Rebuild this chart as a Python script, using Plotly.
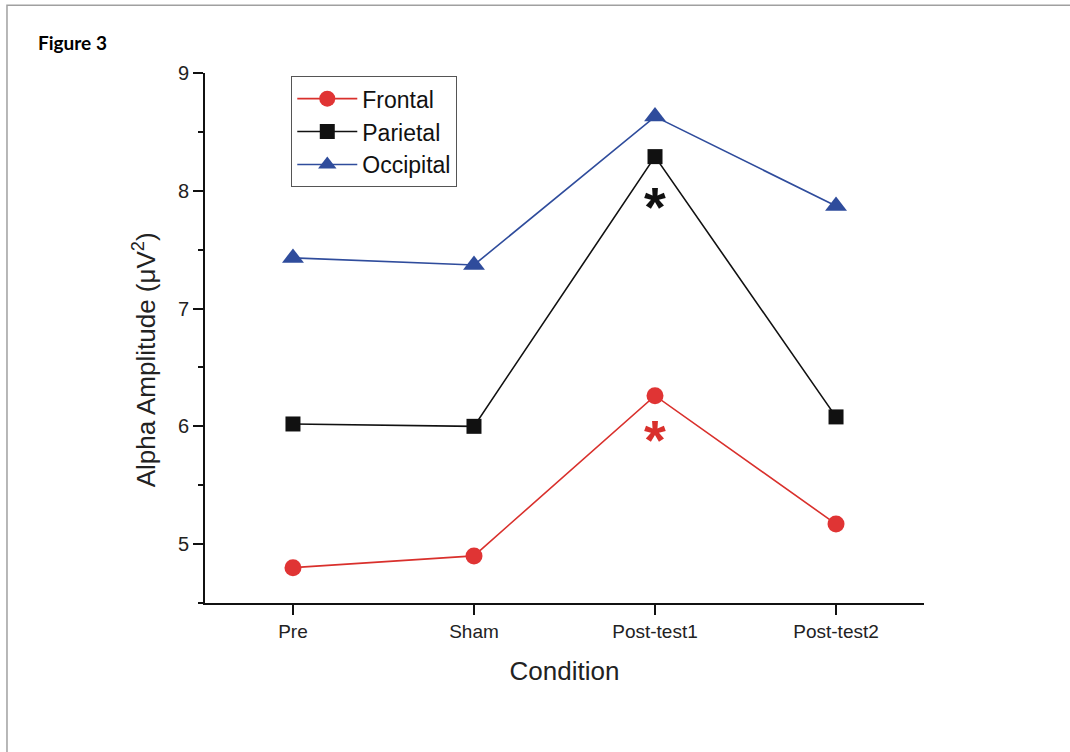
import plotly.graph_objects as go

conditions = ["Pre", "Sham", "Post-test1", "Post-test2"]
frontal = [4.80, 4.90, 6.26, 5.17]
parietal = [6.02, 6.00, 8.29, 6.08]
occipital = [7.43, 7.37, 8.63, 7.87]

# significance markers (category, value, colour)
sig_cond = ["Post-test1", "Post-test1"]
sig_val = [7.93, 5.95]
sig_color = ["#111111", "#D9302C"]

x_idx = list(range(len(conditions)))

RED = "#D9302C"
BLACK = "#111111"
BLUE = "#2F4C9C"

fig = go.Figure()
fig.add_trace(go.Scatter(x=x_idx, y=frontal, name="Frontal", mode="lines+markers",
                         line=dict(color=RED, width=1.6),
                         marker=dict(symbol="circle", size=17, color="#E03434")))
fig.add_trace(go.Scatter(x=x_idx, y=parietal, name="Parietal", mode="lines+markers",
                         line=dict(color=BLACK, width=1.6),
                         marker=dict(symbol="square", size=15, color=BLACK)))
fig.add_trace(go.Scatter(x=x_idx, y=occipital, name="Occipital", mode="lines+markers",
                         line=dict(color=BLUE, width=1.6),
                         marker=dict(symbol="triangle-up", size=19, color=BLUE)))

for c, v, col in zip(sig_cond, sig_val, sig_color):
    fig.add_annotation(x=conditions.index(c), y=v, text="<b>*</b>", showarrow=False,
                       font=dict(size=56, color=col, family="Liberation Sans"),
                       xanchor="center", yanchor="middle", yshift=-7)

fig.add_annotation(xref="paper", yref="paper", x=-0.235, y=1.058, text="<b>Figure 3</b>",
                   showarrow=False, xanchor="left", yanchor="middle",
                   font=dict(size=19, color="black", family="Lato"))

# y-axis title as annotation to match placement
fig.add_annotation(xref="paper", yref="paper", x=-0.0848, y=0.458,
                   text="Alpha Amplitude (μV<sup>2</sup>)", textangle=-90,
                   showarrow=False, xanchor="center", yanchor="middle",
                   font=dict(size=26, color="#222222", family="Liberation Sans"))

# outer frame
fig.add_shape(type="rect", xref="paper", yref="paper",
              x0=-0.2754, x1=1.25, y0=-0.32, y1=1.128,
              line=dict(color="#A0A0A0", width=1.5), layer="below")

fig.update_layout(
    width=1070, height=752,
    margin=dict(l=205, r=146, t=73, b=149),
    paper_bgcolor="white", plot_bgcolor="white",
    font=dict(family="Liberation Sans", color="#222222"),
    showlegend=True,
    legend=dict(x=0.12, y=0.994, xanchor="left", yanchor="top",
                bordercolor="#555555", borderwidth=1, bgcolor="white",
                font=dict(size=23, color="#111111"), tracegroupgap=0,
                itemwidth=60),
    xaxis=dict(range=[-0.486, 3.486], tickmode="array", tickvals=x_idx,
               ticktext=conditions, showgrid=False, zeroline=False,
               showline=True, linecolor="#111111", linewidth=2,
               ticks="outside", ticklen=10, tickwidth=1.5, tickcolor="#111111",
               tickfont=dict(size=19),
               title=dict(text="Condition", font=dict(size=26), standoff=21)),
    yaxis=dict(range=[4.5, 9.0], tickvals=[5, 6, 7, 8, 9], showgrid=False,
               zeroline=False, showline=True, linecolor="#111111", linewidth=2,
               ticks="outside", ticklen=10, tickwidth=1.5, tickcolor="#111111",
               tickfont=dict(size=20),
               minor=dict(dtick=0.5, ticks="outside", ticklen=5, tickwidth=1.5,
                          tickcolor="#111111", showgrid=False)),
)

fig.write_html("out.html")
